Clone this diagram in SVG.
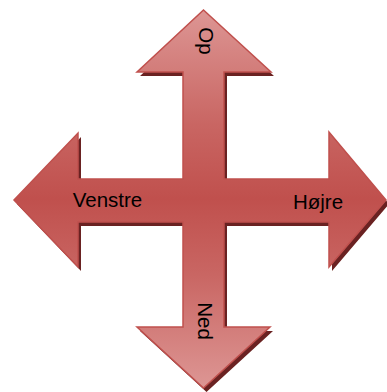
<svg xmlns="http://www.w3.org/2000/svg" width="387" height="392" viewBox="0 0 387 392">
  <style>
    .lbl { font-family: "Liberation Sans", Arial, sans-serif; font-size: 20.5px; fill: #000; }
  </style>
  <defs>
    <linearGradient id="fillGrad" gradientUnits="userSpaceOnUse" x1="0" y1="10" x2="0" y2="388">
      <stop offset="0" stop-color="#dd9694"/>
      <stop offset="0.3" stop-color="#c96663"/>
      <stop offset="0.5" stop-color="#c0504d"/>
      <stop offset="0.7" stop-color="#c96663"/>
      <stop offset="1" stop-color="#dd9694"/>
    </linearGradient>
    <filter id="blur" x="-10%" y="-10%" width="120%" height="120%">
      <feGaussianBlur stdDeviation="0.7"/>
    </filter>
  </defs>
  <g id="cross-arrows">
    <polygon points="203.5,10 271,72 224,72 224,179 329,179 329,132 386,200 329,267 329,222 224,222 224,327 270,327 203.5,388 137,327 183,327 183,222 78,222 78,267 14,200 78,133 78,179 183,179 183,72 137,72" transform="translate(3,4)" fill="#6b2220" filter="url(#blur)"/>
    <polygon points="203.5,10 271,72 224,72 224,179 329,179 329,132 386,200 329,267 329,222 224,222 224,327 270,327 203.5,388 137,327 183,327 183,222 78,222 78,267 14,200 78,133 78,179 183,179 183,72 137,72" fill="url(#fillGrad)" stroke="#c0504d" stroke-width="1.5" stroke-linejoin="miter"/>
  </g>
  <g id="op">
    <text class="lbl" x="199" y="41" text-anchor="middle" transform="rotate(90 199 41)" dy="0">Op</text>
  </g>
  <g id="venstre">
    <text class="lbl" x="107.5" y="206.5" text-anchor="middle">Venstre</text>
  </g>
  <g id="hojre">
    <text class="lbl" x="318" y="209" text-anchor="middle">Højre</text>
  </g>
  <g id="ned">
    <text class="lbl" x="198" y="321" text-anchor="middle" transform="rotate(90 198 321)">Ned</text>
  </g>
</svg>
